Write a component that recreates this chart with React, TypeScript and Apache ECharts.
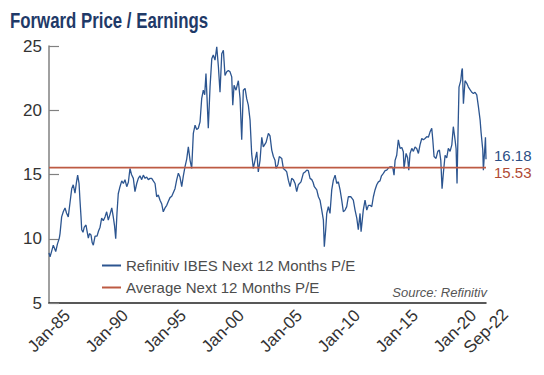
import React, { useEffect, useRef } from "react";
import * as echarts from "echarts";

const chartTitle = "Forward Price / Earnings";
const sourceText = "Source: Refinitiv";
const seriesNames = ["Refinitiv IBES Next 12 Months P/E", "Average Next 12 Months P/E"];

const xTickDates = ["1985-01", "1990-01", "1995-01", "2000-01", "2005-01", "2010-01", "2015-01", "2020-01", "2022-09"];
const xTickLabels = ["Jan-85", "Jan-90", "Jan-95", "Jan-00", "Jan-05", "Jan-10", "Jan-15", "Jan-20", "Sep-22"];
const yTicks = [5, 10, 15, 20, 25];

const averagePE = 15.53;

const peYears = [
  1985.00, 1985.09, 1985.22, 1985.37, 1985.58, 1985.73, 1985.89, 1985.95,
  1986.09, 1986.23, 1986.38, 1986.51, 1986.66, 1986.81, 1986.96,
  1987.09, 1987.24, 1987.37, 1987.47, 1987.59, 1987.67, 1987.76, 1987.82, 1987.93,
  1988.04, 1988.19, 1988.28, 1988.39, 1988.49, 1988.62, 1988.72, 1988.82, 1988.97,
  1989.14, 1989.27, 1989.40, 1989.54, 1989.68, 1989.83, 1989.97,
  1990.11, 1990.26, 1990.41, 1990.54, 1990.65, 1990.75, 1990.86, 1990.97,
  1991.12, 1991.27, 1991.41, 1991.55, 1991.70, 1991.84, 1991.98,
  1992.11, 1992.27, 1992.41, 1992.56, 1992.70, 1992.84, 1992.99,
  1993.13, 1993.28, 1993.42, 1993.56, 1993.71, 1993.85, 1993.99,
  1994.14, 1994.28, 1994.42, 1994.57, 1994.72, 1994.85,
  1995.00, 1995.15, 1995.28, 1995.43, 1995.58, 1995.72, 1995.86,
  1996.01, 1996.15, 1996.29, 1996.44, 1996.58, 1996.72, 1996.87,
  1997.01, 1997.16, 1997.30, 1997.44, 1997.59, 1997.73, 1997.87,
  1998.02, 1998.16, 1998.30, 1998.42, 1998.53, 1998.62, 1998.73, 1998.88,
  1999.03, 1999.16, 1999.31, 1999.46, 1999.60, 1999.74, 1999.89,
  2000.03, 2000.17, 2000.32, 2000.46, 2000.60, 2000.75, 2000.84, 2000.95,
  2001.12, 2001.32, 2001.47, 2001.61, 2001.75, 2001.90,
  2002.04, 2002.18, 2002.33, 2002.47, 2002.61, 2002.76, 2002.91,
  2003.04, 2003.19, 2003.34, 2003.47, 2003.71, 2003.91,
  2004.05, 2004.20, 2004.34, 2004.48, 2004.57, 2004.74, 2004.85,
  2005.06, 2005.20, 2005.37, 2005.49, 2005.63, 2005.78, 2005.92,
  2006.06, 2006.21, 2006.35, 2006.49, 2006.72, 2006.92,
  2007.07, 2007.22, 2007.35, 2007.50, 2007.65, 2007.76, 2007.87,
  2008.08, 2008.22, 2008.36, 2008.51, 2008.65, 2008.73, 2008.85, 2008.94,
  2009.08, 2009.22, 2009.37, 2009.51, 2009.66, 2009.80, 2009.94,
  2010.09, 2010.23, 2010.37, 2010.52, 2010.66, 2010.80,
  2011.01, 2011.23, 2011.38, 2011.53, 2011.66, 2011.81, 2011.90,
  2012.09, 2012.24, 2012.39, 2012.53, 2012.67, 2012.82, 2012.96,
  2013.10, 2013.25, 2013.39, 2013.53, 2013.66, 2013.82, 2013.97,
  2014.11, 2014.25, 2014.40, 2014.54, 2014.63, 2014.74, 2014.83, 2014.97,
  2015.11, 2015.26, 2015.41, 2015.54, 2015.60, 2015.78, 2015.91,
  2016.01, 2016.12, 2016.27, 2016.41, 2016.55, 2016.70, 2016.84, 2016.98,
  2017.13, 2017.27, 2017.41, 2017.56, 2017.70, 2017.84, 2017.99,
  2018.08, 2018.19, 2018.36, 2018.51, 2018.65, 2018.77, 2018.88, 2018.99,
  2019.14, 2019.28, 2019.42, 2019.57, 2019.72, 2019.85,
  2020.00, 2020.09, 2020.17, 2020.26, 2020.34, 2020.49, 2020.58, 2020.63, 2020.72, 2020.86,
  2021.01, 2021.15, 2021.29, 2021.44, 2021.58, 2021.72, 2021.87,
  2022.01, 2022.16, 2022.24, 2022.39, 2022.44, 2022.59, 2022.62, 2022.667,
];

const peValues = [
  8.9, 8.6, 9.0, 9.5, 9.0, 9.6, 10.05, 10.4,
  11.7, 12.1, 12.4, 12.0, 11.7, 12.8, 13.9,
  14.2, 13.55, 14.4, 14.95, 14.3, 13.0, 11.7, 10.7, 10.5,
  10.9, 11.07, 10.6, 10.05, 10.4, 10.3, 9.7, 9.5, 10.2,
  10.2, 10.6, 10.9, 11.6, 11.4, 11.7, 12.1,
  11.45, 11.9, 12.4, 11.7, 11.0, 10.0, 12.0, 13.5,
  14.05, 14.5, 14.3, 14.6, 14.05, 14.4, 15.47,
  15.0, 14.7, 13.66, 14.3, 14.7, 14.9, 14.6,
  14.95, 14.7, 14.8, 14.6, 14.7, 14.7, 14.5,
  14.3, 13.27, 13.4, 13.0, 12.7, 12.1,
  12.4, 12.6, 12.9, 13.2, 13.3, 13.6, 13.9,
  14.6, 15.1, 14.8, 14.05, 14.9, 15.6, 16.2,
  17.15, 16.1, 15.47, 18.2, 18.84, 18.5, 18.6,
  19.1, 20.9, 21.56, 21.2, 22.86, 21.0, 18.6, 21.8,
  24.0, 24.3, 23.9, 24.93, 23.4, 21.4, 24.4,
  24.67, 22.7, 23.0, 23.1, 23.0, 22.6, 20.4, 21.95,
  21.56, 22.3, 20.9, 17.7, 21.56, 21.7,
  20.9, 20.4, 19.23, 16.6, 15.47, 16.1, 16.77,
  15.2, 16.1, 17.9, 17.15, 17.5, 18.2,
  18.0, 16.9, 16.4, 16.1, 15.47, 15.8, 16.4,
  16.25, 15.47, 15.34, 15.2, 14.56, 14.05, 14.7,
  14.6, 14.3, 13.66, 14.2, 14.43, 15.09,
  15.2, 15.34, 15.3, 14.7, 14.6, 14.4, 14.05,
  13.8, 13.27, 13.0, 12.23, 11.45, 9.38, 10.7, 11.97,
  12.5, 11.97, 13.8, 14.56, 14.95, 14.3, 14.43,
  13.8, 13.0, 12.1, 12.23, 12.5, 13.27,
  13.27, 13.0, 12.23, 11.6, 10.7, 11.97, 10.55,
  12.23, 13.0, 12.23, 12.6, 12.6, 12.5, 13.27,
  13.8, 14.2, 14.43, 14.5, 14.9, 15.09, 15.3,
  15.34, 15.5, 15.6, 15.6, 15.55, 14.95, 16.1, 16.5,
  17.7, 17.03, 17.1, 16.77, 15.47, 16.64, 16.3,
  15.34, 16.64, 17.03, 16.8, 17.15, 17.0, 16.64, 17.3,
  17.8, 17.7, 17.8, 17.94, 17.9, 18.3, 18.6,
  17.7, 16.4, 16.25, 16.8, 16.9, 16.1, 13.9, 15.09,
  16.5, 16.3, 17.03, 16.8, 17.3, 18.72,
  17.7, 17.0, 14.3, 18.5, 21.8, 22.3, 23.1, 23.25, 20.5, 22.3,
  22.1, 21.8, 21.6, 21.4, 21.3, 21.4, 21.2,
  20.3, 19.23, 18.3, 16.9, 15.34, 17.4, 17.9, 16.18,
];

const toYear = (d: string) => {
  const [y, m] = d.split("-").map(Number);
  return y + (m - 1) / 12;
};

const FONT = "'Liberation Sans', Arial, sans-serif";
const BLUE = "#2c5590";
const RED = "#bd5a43";

export default function App() {
  const ref = useRef<HTMLDivElement>(null);

  useEffect(() => {
    document.body.style.margin = "0";
    if (!ref.current) return;
    const chart = echarts.init(ref.current, undefined, { renderer: "svg" });
    const xTickYears = xTickDates.map(toYear);
    const xMin = xTickYears[0];
    const xMax = xTickYears[xTickYears.length - 1];
    const peData = peYears.map((y, i) => [y, peValues[i]]);
    const avgData = [
      [xMin, averagePE],
      [xMax, averagePE],
    ];

    chart.setOption({
      animation: false,
      textStyle: { fontFamily: FONT },
      grid: { left: 49, right: 58, top: 46, bottom: 72 },
      graphic: [
        {
          type: "text",
          x: 10,
          y: 20.5,
          scaleX: 0.765,
          style: {
            text: chartTitle,
            fontSize: 22,
            fontWeight: "bold",
            fontFamily: FONT,
            fill: "#1f3a68",
            verticalAlign: "middle",
            align: "left",
          },
        },
        {
          type: "text",
          x: 487,
          y: 292,
          style: {
            text: sourceText,
            fontSize: 13,
            fontStyle: "italic",
            fontFamily: FONT,
            fill: "#555555",
            align: "right",
            verticalAlign: "middle",
          },
        },
      ],
      legend: {
        orient: "vertical",
        left: 97,
        top: 253,
        icon: "rect",
        itemWidth: 19,
        itemHeight: 2,
        itemGap: 7,
        data: seriesNames,
        textStyle: { fontSize: 15, color: "#4d4d4d", fontFamily: FONT },
      },
      xAxis: {
        type: "value",
        min: xMin,
        max: xMax,
        interval: 5,
        splitLine: { show: false },
        axisTick: { show: false },
        axisLine: { show: true, lineStyle: { color: "#222222", width: 1.5 } },
        axisLabel: {
          customValues: xTickYears,
          rotate: 45,
          align: "center",
          verticalAlign: "middle",
          margin: 28,
          fontSize: 17,
          color: "#333333",
          showMinLabel: true,
          showMaxLabel: true,
          formatter: (v: number) => {
            const i = xTickYears.findIndex((t) => Math.abs(t - v) < 0.01);
            return i >= 0 ? xTickLabels[i] : "";
          },
        },
      },
      yAxis: {
        type: "value",
        min: yTicks[0],
        max: yTicks[yTicks.length - 1],
        interval: 5,
        splitLine: { show: false },
        axisLine: { show: true, lineStyle: { color: "#808080", width: 1.5 } },
        axisTick: { show: true, inside: true, length: 10, lineStyle: { color: "#808080", width: 1.2 } },
        axisLabel: { fontSize: 17, color: "#333333", margin: 7 },
      },
      series: [
        {
          name: seriesNames[0],
          type: "line",
          data: peData,
          showSymbol: false,
          symbol: "none",
          color: BLUE,
          itemStyle: { color: BLUE },
          lineStyle: { color: BLUE, width: 1.3 },
          endLabel: {
            show: true,
            formatter: (p: any) => Number(p.value[1]).toFixed(2),
            color: "#2c4f86",
            fontSize: 15,
            distance: 8,
            offset: [0, -4],
          },
        },
        {
          name: seriesNames[1],
          type: "line",
          data: avgData,
          showSymbol: false,
          symbol: "none",
          color: RED,
          itemStyle: { color: RED },
          lineStyle: { color: RED, width: 1.8 },
          endLabel: {
            show: true,
            formatter: (p: any) => Number(p.value[1]).toFixed(2),
            color: "#b04a35",
            fontSize: 15,
            distance: 8,
            offset: [0, 5],
          },
        },
      ],
    });
    return () => chart.dispose();
  }, []);

  return <div ref={ref} style={{ width: 544, height: 375 }} />;
}
